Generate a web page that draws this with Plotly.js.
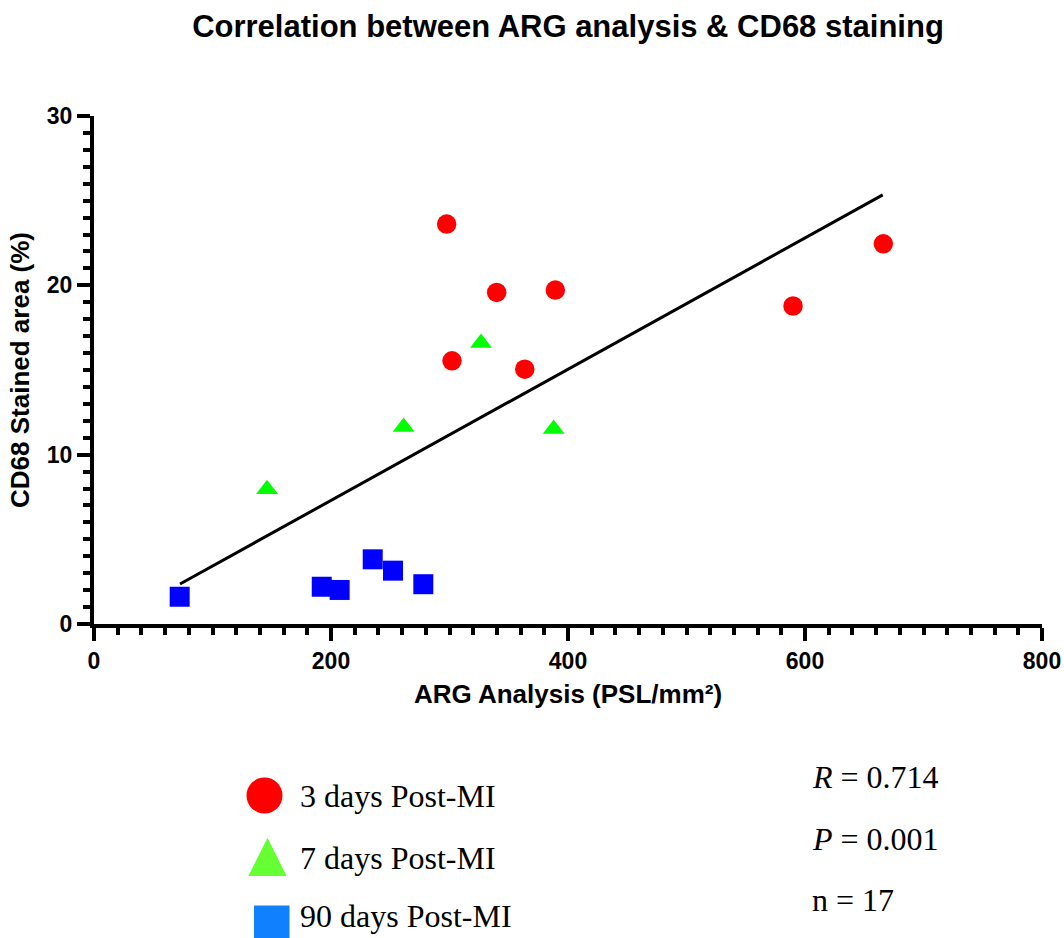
<!DOCTYPE html>
<html>
<head>
<meta charset="utf-8">
<script src="https://cdn.plot.ly/plotly-3.0.1.min.js"></script>
<style>html,body{margin:0;padding:0;background:#fff;}#chart{width:1064px;height:938px;}</style>
</head>
<body>
<div id="chart"></div>
<script>
// ---- data ----
const day3X = [297.6, 339.8, 389.3, 302.1, 363.5, 589.9, 666.1];
const day3Y = [23.62, 19.58, 19.72, 15.54, 15.05, 18.78, 22.45];
const day7X = [146.0, 261.3, 326.6, 387.9];
const day7Y = [7.96, 11.63, 16.59, 11.51];
const day90X = [72.3, 192.2, 207.3, 235.2, 252.3, 277.9];
const day90Y = [1.61, 2.20, 2.01, 3.82, 3.15, 2.35];
const fitX = [72.6, 665.6];
const fitY = [2.36, 25.34];
const legendLabels = ['3 days Post-MI', '7 days Post-MI', '90 days Post-MI'];
const statLabels = ['<i>R</i> = 0.714', '<i>P</i> = 0.001', 'n = 17'];

// ---- layout helpers (pixel -> paper) ----
const W = 1064, H = 938;
const M = {l: 94, r: 22, t: 116, b: 314};
const PW = W - M.l - M.r, PH = H - M.t - M.b;
const fx = px => (px - M.l) / PW;
const fy = py => (H - M.b - py) / PH;

const sans = 'Liberation Sans, Arial, sans-serif';
const serif = 'Liberation Serif, Times New Roman, serif';

const traces = [
  {x: fitX, y: fitY, mode: 'lines', line: {color: '#000', width: 3}, showlegend: false, hoverinfo: 'skip'},
  {x: day3X, y: day3Y, mode: 'markers', name: legendLabels[0], marker: {symbol: 'circle', size: 19.5, color: '#ff0000'}},
  {x: day7X, y: day7Y, mode: 'markers', name: legendLabels[1], marker: {symbol: 'triangle-up', size: 19, color: '#00ff00'}},
  {x: day90X, y: day90Y, mode: 'markers', name: legendLabels[2], marker: {symbol: 'square', size: 20, color: '#0000ff'}}
];

// manual legend glyphs
const triPath = 'M ' + fx(267.5) + ' ' + fy(840) + ' L ' + fx(285) + ' ' + fy(875) + ' L ' + fx(250) + ' ' + fy(875) + ' Z';
const shapes = [
  {type: 'circle', xref: 'paper', yref: 'paper', x0: fx(246.5), x1: fx(282.5), y0: fy(813.5), y1: fy(777.5), fillcolor: '#ff0000', line: {width: 0}},
  {type: 'path', xref: 'paper', yref: 'paper', path: triPath, fillcolor: '#66ff33', line: {color: '#66ff33', width: 2}},
  {type: 'rect', xref: 'paper', yref: 'paper', x0: fx(254), x1: fx(289.5), y0: fy(941), y1: fy(905.5), fillcolor: '#1080ff', line: {width: 0}}
];

const legendY = [796, 858, 916];
const statY = [777, 838.5, 899.5];
const annotations = [];
legendLabels.forEach((t, i) => annotations.push({
  xref: 'paper', yref: 'paper', x: fx(298), y: fy(legendY[i]), xanchor: 'left', yanchor: 'middle',
  text: t, showarrow: false, font: {family: serif, size: 32, color: '#000'}
}));
statLabels.forEach((t, i) => annotations.push({
  xref: 'paper', yref: 'paper', x: fx(810), y: fy(statY[i]), xanchor: 'left', yanchor: 'middle',
  text: t, showarrow: false, font: {family: serif, size: 32, color: '#000'}
}));

const axisCommon = {
  showgrid: false, zeroline: false, showline: true, linecolor: '#000', linewidth: 4,
  ticks: 'outside', ticklen: 13, tickwidth: 4, tickcolor: '#000',
  tickfont: {family: sans, size: 23, color: '#000', weight: 700},
  fixedrange: true
};

const layout = {
  width: W, height: H,
  margin: M,
  paper_bgcolor: '#fff', plot_bgcolor: '#fff',
  showlegend: false,
  title: {text: 'Correlation between ARG analysis & CD68 staining', font: {family: sans, size: 31, color: '#000', weight: 700},
          xref: 'paper', x: 0.5, xanchor: 'center', yref: 'container', y: 1 - 26 / H, yanchor: 'middle'},
  xaxis: Object.assign({}, axisCommon, {
    range: [0, 800], dtick: 200, tick0: 0,
    minor: {ticks: 'outside', dtick: 20, ticklen: 7, tickwidth: 4, tickcolor: '#000'},
    title: {text: 'ARG Analysis (PSL/mm²)', font: {family: sans, size: 26, color: '#000', weight: 700}, standoff: 13}
  }),
  yaxis: Object.assign({}, axisCommon, {
    range: [0, 30], dtick: 10, tick0: 0,
    minor: {ticks: 'outside', dtick: 1, ticklen: 7, tickwidth: 4, tickcolor: '#000'},
    title: {text: 'CD68 Stained area (%)', font: {family: sans, size: 26, color: '#000', weight: 700}, standoff: 11}
  }),
  shapes: shapes,
  annotations: annotations
};

Plotly.newPlot('chart', traces, layout, {displayModeBar: false, staticPlot: true});
</script>
</body>
</html>
